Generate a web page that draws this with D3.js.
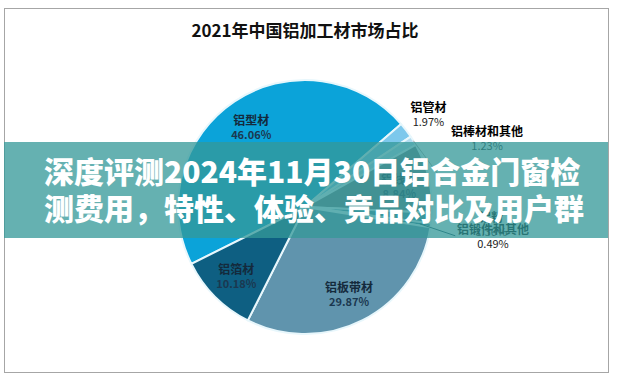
<!DOCTYPE html>
<html><head><meta charset="utf-8">
<script src="https://cdn.jsdelivr.net/npm/d3@7"></script>
<style>html,body{margin:0;padding:0;background:#fff;}svg{display:block;}</style>
</head><body>
<svg id="c" width="628" height="381"></svg>
<script>
const title = "2021年中国铝加工材市场占比";
const categories = ["铝型材","铝管材","铝棒材和其他","铝线材","铝粉","铝锻件和其他","铝板带材","铝箔材"];
const shares = [46.06, 1.97, 1.23, 8.84, 1.36, 0.49, 29.87, 10.18];
const sliceColors = ["#0ba3d9","#7cc8ec","#b2dcf0","#6e7f86","#4d93ad","#2f7896","#6094ad","#0e5f82"];
const overlayLines = ["深度评测2024年11月30日铝合金门窗检","测费用，特性、体验、竞品对比及用户群"];

const W = 628, H = 381;
const svg = d3.select("#c");
const cx = 305, cy = 207, R = 127;
const startDeg = 243.4;

// frame
svg.append("rect").attr("x",4.5).attr("y",8.5).attr("width",604).attr("height",364)
  .attr("fill","#fff").attr("stroke","#a6a6a6").attr("stroke-width",1);

// title
svg.append("text").attr("x",cx).attr("y",37).attr("text-anchor","middle")
  .attr("font-family","'Noto Sans CJK SC','Noto Sans',sans-serif").attr("font-weight","bold")
  .attr("font-size",17).attr("fill","#111").text(title);

const data = categories.map((c,i)=>({name:c, value:shares[i], color:sliceColors[i]}));
const rad = d=>d*Math.PI/180;
const pie = d3.pie().value(d=>d.value).sort(null)
  .startAngle(rad(startDeg)).endAngle(rad(startDeg)+2*Math.PI);
const arcs = pie(data);
const arc = d3.arc().innerRadius(0).outerRadius(R);

const g = svg.append("g").attr("transform",`translate(${cx},${cy})`);
g.selectAll("path.s").data(arcs).join("path").attr("class","s")
  .attr("d",arc).attr("fill",d=>d.data.color)
  .attr("stroke","#e8f7fc").attr("stroke-width",2).attr("stroke-linejoin","round");

// label placement
const inside = new Set(["铝型材","铝线材","铝板带材","铝箔材"]);
const outerPlace = {"铝管材":[155,0],"铝棒材和其他":[195,10.5],"铝粉":[187,0],"铝锻件和其他":[190,0]};
const leader = {"铝棒材和其他":[[127,0],[142,22]],"铝锻件和其他":[[116,0],[153,2.5]]};
const fontF = "'Noto Sans CJK SC','Noto Sans',sans-serif";

function polar(r, a){ return [r*Math.sin(a), -r*Math.cos(a)]; }

arcs.forEach(d=>{
  const mid = (d.startAngle+d.endAngle)/2;
  const name = d.data.name;
  let p, nameColor, pctColor, pctWeight;
  if (inside.has(name)) {
    p = d3.arc().innerRadius(97).outerRadius(97).centroid(d);
    nameColor = "#142a3c"; pctColor = "#1b3850"; pctWeight = "bold";
  } else {
    const [r, off] = outerPlace[name];
    p = polar(r, mid + rad(off));
    nameColor = "#000"; pctColor = "#222"; pctWeight = "normal";
  }
  if (leader[name]) {
    const [[r1,o1],[r2,o2]] = leader[name];
    const a = polar(r1, mid + rad(o1)), b = polar(r2, mid + rad(o2));
    g.append("line").attr("x1",a[0]).attr("y1",a[1]).attr("x2",b[0]).attr("y2",b[1])
      .attr("stroke", name==="铝锻件和其他" ? "#1e4a5a" : "#a6a6a6").attr("stroke-width",1);
  }
  g.append("text").attr("x",p[0]).attr("y",p[1]-1).attr("text-anchor","middle")
    .attr("font-family",fontF).attr("font-weight","bold").attr("font-size",12)
    .attr("fill",nameColor).text(name);
  g.append("text").attr("x",p[0]).attr("y",p[1]+13).attr("text-anchor","middle")
    .attr("font-family",fontF).attr("font-weight",pctWeight).attr("font-size",11)
    .attr("fill",pctColor).text(d.data.value.toFixed(2)+"%");
});

// overlay band
svg.append("rect").attr("x",4).attr("y",142).attr("width",604).attr("height",96)
  .attr("fill","rgb(52,152,152)").attr("fill-opacity",0.76);
const ot = svg.append("g");
overlayLines.forEach((t,i)=>{
  ot.append("text").attr("x",44).attr("y",183+i*37)
    .attr("font-family",fontF).attr("font-weight","900").attr("font-size",30)
    .attr("fill","#fff").text(t);
});
</script>
</body></html>
